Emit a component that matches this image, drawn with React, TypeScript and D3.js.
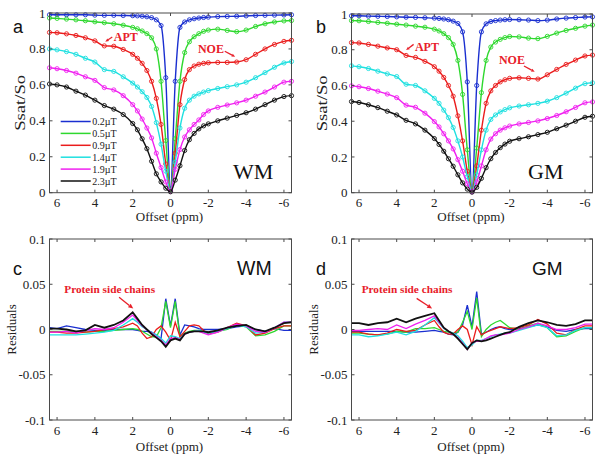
import React from 'react';
import * as d3 from 'd3';

// offsets (ppm), shared by all curves
const OFFSETS = [6.4, 6, 5.5, 5, 4.5, 4, 3.5, 3, 2.5, 2, 1.75, 1.5, 1.25, 1, 0.75, 0.5, 0.25, 0,
  -0.25, -0.5, -0.75, -1, -1.25, -1.5, -1.75, -2, -2.5, -3, -3.5, -4, -4.5, -5, -5.5, -6, -6.4];

const B1_LABELS = ['0.2µT', '0.5µT', '0.9µT', '1.4µT', '1.9µT', '2.3µT'];
const COLORS = ['#1a2fd0', '#2ed82e', '#ea1c1c', '#1fe0e0', '#f020f0', '#111111'];

const X_TICKS = [6, 4, 2, 0, -2, -4, -6];
const Z_TICKS = [0, 0.2, 0.4, 0.6, 0.8, 1];
const RES_TICKS = [-0.1, -0.05, 0, 0.05, 0.1];

// Z-spectra, white matter
const WM_02 = [0.99, 0.99, 0.99, 0.99, 0.99, 0.988, 0.987, 0.987, 0.986, 0.985, 0.984, 0.982, 0.979, 0.974, 0.962, 0.93, 0.64, 0.02, 0.62, 0.92, 0.95, 0.962, 0.968, 0.972, 0.975, 0.977, 0.98, 0.981, 0.982, 0.984, 0.986, 0.987, 0.988, 0.989, 0.99];
const WM_05 = [0.972, 0.97, 0.966, 0.962, 0.957, 0.951, 0.946, 0.94, 0.932, 0.92, 0.912, 0.9, 0.885, 0.862, 0.8, 0.62, 0.29, 0.015, 0.3, 0.62, 0.78, 0.84, 0.868, 0.885, 0.898, 0.905, 0.91, 0.903, 0.896, 0.905, 0.925, 0.94, 0.95, 0.956, 0.958];
const WM_09 = [0.892, 0.89, 0.884, 0.875, 0.862, 0.845, 0.817, 0.815, 0.797, 0.77, 0.748, 0.72, 0.68, 0.62, 0.525, 0.38, 0.16, 0.01, 0.22, 0.49, 0.63, 0.685, 0.705, 0.715, 0.72, 0.723, 0.725, 0.725, 0.727, 0.74, 0.77, 0.8, 0.825, 0.842, 0.848];
const WM_14 = [0.8, 0.795, 0.785, 0.77, 0.748, 0.727, 0.685, 0.675, 0.645, 0.61, 0.588, 0.562, 0.53, 0.48, 0.39, 0.27, 0.12, 0.01, 0.17, 0.36, 0.47, 0.515, 0.537, 0.55, 0.56, 0.568, 0.58, 0.59, 0.6, 0.615, 0.64, 0.668, 0.698, 0.722, 0.73];
const WM_19 = [0.695, 0.69, 0.68, 0.665, 0.645, 0.625, 0.585, 0.572, 0.54, 0.49, 0.455, 0.41, 0.36, 0.305, 0.22, 0.14, 0.06, 0.008, 0.13, 0.24, 0.31, 0.35, 0.38, 0.405, 0.435, 0.455, 0.475, 0.488, 0.5, 0.515, 0.537, 0.56, 0.588, 0.615, 0.62];
const WM_23 = [0.605, 0.6, 0.588, 0.565, 0.543, 0.515, 0.485, 0.465, 0.435, 0.385, 0.35, 0.3, 0.245, 0.175, 0.105, 0.06, 0.025, 0.005, 0.07, 0.15, 0.235, 0.295, 0.33, 0.355, 0.372, 0.383, 0.4, 0.415, 0.43, 0.445, 0.465, 0.49, 0.515, 0.535, 0.54];

// Z-spectra, grey matter
const GM_02 = [0.99, 0.99, 0.988, 0.987, 0.986, 0.984, 0.982, 0.981, 0.979, 0.977, 0.975, 0.972, 0.968, 0.96, 0.947, 0.9, 0.62, 0.01, 0.6, 0.9, 0.945, 0.958, 0.963, 0.966, 0.968, 0.969, 0.968, 0.966, 0.963, 0.966, 0.972, 0.977, 0.98, 0.983, 0.984];
const GM_05 = [0.963, 0.962, 0.958, 0.953, 0.948, 0.943, 0.938, 0.932, 0.926, 0.915, 0.905, 0.89, 0.868, 0.83, 0.74, 0.55, 0.24, 0.01, 0.25, 0.56, 0.74, 0.815, 0.843, 0.858, 0.868, 0.874, 0.872, 0.865, 0.862, 0.875, 0.893, 0.908, 0.92, 0.932, 0.938];
const GM_09 = [0.84, 0.838, 0.83, 0.82, 0.81, 0.8, 0.768, 0.757, 0.735, 0.705, 0.68, 0.645, 0.6, 0.54, 0.43, 0.29, 0.12, 0.01, 0.15, 0.35, 0.5, 0.57, 0.6, 0.62, 0.632, 0.64, 0.643, 0.64, 0.636, 0.66, 0.69, 0.718, 0.742, 0.765, 0.77];
const GM_14 = [0.71, 0.705, 0.695, 0.68, 0.665, 0.65, 0.607, 0.6, 0.57, 0.528, 0.5, 0.462, 0.42, 0.365, 0.29, 0.2, 0.09, 0.008, 0.1, 0.24, 0.35, 0.41, 0.435, 0.452, 0.465, 0.475, 0.485, 0.492, 0.5, 0.512, 0.532, 0.557, 0.585, 0.61, 0.615];
const GM_19 = [0.598, 0.593, 0.583, 0.568, 0.552, 0.532, 0.49, 0.478, 0.445, 0.398, 0.368, 0.33, 0.29, 0.245, 0.185, 0.12, 0.05, 0.005, 0.06, 0.15, 0.24, 0.3, 0.33, 0.35, 0.363, 0.373, 0.385, 0.393, 0.402, 0.415, 0.432, 0.453, 0.477, 0.503, 0.508];
const GM_23 = [0.51, 0.505, 0.492, 0.476, 0.456, 0.435, 0.405, 0.385, 0.35, 0.303, 0.27, 0.232, 0.19, 0.148, 0.1, 0.055, 0.02, 0.003, 0.03, 0.08, 0.14, 0.19, 0.225, 0.252, 0.272, 0.288, 0.302, 0.313, 0.325, 0.338, 0.358, 0.378, 0.4, 0.422, 0.428];

// fit residuals, white matter
const RES_WM_02 = [0.002, 0.001, 0.004, 0.002, 0, -0.001, -0.001, 0, 0, 0, -0.001, -0.002, -0.002, -0.003, -0.006, -0.01, 0.034, 0.004, 0.034, -0.006, 0.005, 0.004, 0.003, 0.001, 0, 0, 0, 0.001, 0.003, 0.004, 0, -0.002, 0.001, -0.001, -0.001];
const RES_WM_05 = [-0.002, -0.002, -0.002, -0.003, -0.003, -0.002, -0.002, -0.001, 0, 0.001, 0, -0.002, -0.005, -0.008, -0.008, 0.002, 0.031, 0.002, 0.031, -0.008, -0.004, -0.002, -0.001, -0.001, -0.002, -0.003, -0.002, 0, 0.005, 0.003, -0.007, -0.006, -0.002, 0.004, 0.004];
const RES_WM_09 = [-0.003, -0.003, -0.004, -0.004, -0.003, -0.002, 0, 0.001, 0.003, 0.007, 0.004, -0.004, -0.01, -0.008, 0, 0.004, -0.003, -0.012, 0.008, -0.008, -0.002, 0.004, 0.005, 0.004, -0.001, -0.005, -0.003, 0.002, 0.007, 0.004, -0.006, -0.004, 0.001, 0.004, 0.004];
const RES_WM_14 = [-0.006, -0.006, -0.006, -0.006, -0.005, -0.004, -0.003, -0.001, 0.005, 0.012, 0.008, 0.003, 0, -0.003, -0.006, -0.01, -0.015, -0.007, -0.008, -0.01, -0.005, -0.003, -0.002, -0.001, -0.003, -0.004, -0.002, 0.001, 0.005, 0.003, -0.004, -0.003, 0.002, 0.008, 0.008];
const RES_WM_19 = [-0.003, -0.003, -0.002, -0.004, -0.001, 0.001, 0, 0.002, 0.008, 0.016, 0.01, 0.004, 0, -0.004, -0.008, -0.012, -0.017, -0.01, -0.009, -0.011, -0.005, -0.003, -0.002, -0.002, -0.004, -0.006, -0.003, 0.002, 0.006, 0.004, -0.002, -0.003, 0.002, 0.008, 0.008];
const RES_WM_23 = [0.001, 0.001, 0, -0.002, -0.001, 0.005, 0.002, 0.005, 0.01, 0.019, 0.012, 0.005, 0, -0.005, -0.009, -0.013, -0.019, -0.012, -0.01, -0.012, -0.005, -0.003, -0.002, -0.002, -0.002, -0.003, -0.001, 0.002, 0.004, 0.005, 0, -0.002, 0.002, 0.007, 0.008];

// fit residuals, grey matter
const RES_GM_02 = [-0.002, -0.002, -0.002, -0.002, -0.002, -0.002, -0.003, -0.003, -0.002, -0.001, -0.002, -0.003, -0.005, -0.006, -0.003, 0.005, 0.027, 0.003, 0.042, -0.005, -0.003, 0, 0.002, 0.003, 0.001, 0, 0.001, 0.003, 0.005, 0.003, -0.001, -0.002, 0, 0.001, 0.001];
const RES_GM_05 = [-0.004, -0.004, -0.005, -0.006, -0.005, -0.002, -0.003, 0.001, 0.001, 0.002, 0, -0.002, -0.003, -0.004, -0.003, 0.008, 0.02, 0, 0.035, -0.008, 0, 0.005, 0.008, 0.01, 0.006, 0.002, 0, 0.004, 0.007, 0.002, -0.008, -0.007, -0.002, 0.002, 0.002];
const RES_GM_09 = [-0.003, -0.003, -0.005, -0.006, -0.004, 0, -0.002, -0.001, 0.005, 0.01, 0.003, -0.003, -0.005, -0.005, 0, 0.004, 0, -0.017, 0.003, -0.006, -0.003, -0.001, 0.001, 0.003, 0.002, 0.001, 0.002, 0.005, 0.011, 0.006, -0.004, -0.006, 0, 0.004, 0.004];
const RES_GM_14 = [-0.006, -0.006, -0.008, -0.007, -0.005, -0.003, -0.006, -0.002, 0.005, 0.013, 0.007, 0.001, -0.002, -0.004, -0.007, -0.013, -0.02, -0.017, -0.012, -0.012, -0.01, -0.008, -0.006, -0.005, -0.004, -0.004, -0.001, 0.002, 0.005, 0.002, -0.007, -0.006, -0.001, 0.002, 0.002];
const RES_GM_19 = [-0.001, -0.001, 0, 0.001, 0, 0.005, 0.001, 0.006, 0.01, 0.015, 0.008, 0.002, -0.002, -0.005, -0.009, -0.015, -0.022, -0.015, -0.013, -0.013, -0.01, -0.007, -0.006, -0.006, -0.005, -0.004, 0, 0.003, 0.007, 0.004, 0, 0, 0.002, 0.006, 0.006];
const RES_GM_23 = [0.007, 0.007, 0.005, 0.007, 0.008, 0.012, 0.008, 0.012, 0.015, 0.018, 0.01, 0.002, -0.002, -0.005, -0.01, -0.016, -0.022, -0.015, -0.012, -0.013, -0.012, -0.01, -0.008, -0.006, -0.004, -0.003, 0.003, 0.007, 0.01, 0.008, 0.005, 0.004, 0.006, 0.01, 0.01];

const SERIF = "'Liberation Serif', 'Times New Roman', serif";
const SANS = "'Liberation Sans', Arial, sans-serif";
const RED = '#e8202a';
const AXIS = '#4a4a4a';

type Scale = d3.ScaleLinear<number, number>;

type PanelProps = {
  left: number; right: number; top: number; bottom: number;
  yDomain: [number, number];
  yTicks: number[];
  series: number[][];
  smooth: boolean;
  ylabel: string;
  ylabelX: number;
  ylabelSize: number;
  ylabelLen?: number;
  xTickGap: number;
  xLabelGap: number;
  annotate?: (x: Scale, y: Scale) => React.ReactNode;
};

function Panel(p: PanelProps) {
  const x = d3.scaleLinear().domain([6.4, -6.4]).range([p.left, p.right]);
  const y = d3.scaleLinear().domain(p.yDomain).range([p.bottom, p.top]);
  const line = d3.line<number>()
    .x((_, i) => x(OFFSETS[i]))
    .y(d => y(d))
    .curve(p.smooth ? d3.curveMonotoneX : d3.curveLinear);
  const tl = 3;
  const midY = (p.top + p.bottom) / 2;

  return (
    <g>
      {p.series.map((s, k) => (
        <g key={k}>
          <path d={line(s) || ''} fill="none" stroke={COLORS[k]}
            strokeWidth={p.smooth ? 1.4 : (k === 5 ? 1.8 : 1.3)} />
          {p.smooth && s.map((v, i) => (
            <circle key={i} cx={x(OFFSETS[i])} cy={y(v)} r={2.1}
              fill="none" stroke={COLORS[k]} strokeWidth={0.9} />
          ))}
        </g>
      ))}

      <rect x={p.left} y={p.top} width={p.right - p.left} height={p.bottom - p.top}
        fill="none" stroke={AXIS} strokeWidth={1} />

      {X_TICKS.map(t => (
        <g key={'x' + t}>
          <line x1={x(t)} x2={x(t)} y1={p.bottom} y2={p.bottom - tl} stroke={AXIS} />
          <line x1={x(t)} x2={x(t)} y1={p.top} y2={p.top + tl} stroke={AXIS} />
          <text x={x(t)} y={p.bottom + p.xTickGap} textAnchor="middle"
            fontFamily={SERIF} fontSize={13} fill="#222">{String(t)}</text>
        </g>
      ))}
      {p.yTicks.map(t => (
        <g key={'y' + t}>
          <line x1={p.left} x2={p.left + tl} y1={y(t)} y2={y(t)} stroke={AXIS} />
          <line x1={p.right} x2={p.right - tl} y1={y(t)} y2={y(t)} stroke={AXIS} />
          <text x={p.left - 4} y={y(t)} dy="0.35em" textAnchor="end"
            fontFamily={SERIF} fontSize={13} fill="#222">{String(t)}</text>
        </g>
      ))}

      <text x={(p.left + p.right) / 2 - 1} y={p.bottom + p.xLabelGap} textAnchor="middle"
        fontFamily={SERIF} fontSize={13} fill="#222">Offset (ppm)</text>
      <text transform={`translate(${p.ylabelX},${midY}) rotate(-90)`} textAnchor="middle"
        fontFamily={SERIF} fontSize={p.ylabelSize} fill="#222"
        textLength={p.ylabelLen} lengthAdjust={p.ylabelLen ? 'spacingAndGlyphs' : undefined}>
        {p.ylabel}
      </text>

      {p.annotate && p.annotate(x, y)}
    </g>
  );
}

function Arrow({ x1, y1, x2, y2, head }: { x1: number; y1: number; x2: number; y2: number; head: number }) {
  const a = Math.atan2(y2 - y1, x2 - x1);
  const w = head * 0.45;
  const bx = x2 - head * Math.cos(a);
  const by = y2 - head * Math.sin(a);
  const pts = [
    [x2, y2],
    [bx + w * Math.sin(a), by - w * Math.cos(a)],
    [bx - w * Math.sin(a), by + w * Math.cos(a)],
  ].map(q => q.join(',')).join(' ');
  return (
    <g>
      <line x1={x1} y1={y1} x2={bx} y2={by} stroke={RED} strokeWidth={1.3} />
      <polygon points={pts} fill={RED} />
    </g>
  );
}

export default function App() {
  const wm = [WM_02, WM_05, WM_09, WM_14, WM_19, WM_23];
  const gm = [GM_02, GM_05, GM_09, GM_14, GM_19, GM_23];
  const resWm = [RES_WM_02, RES_WM_05, RES_WM_09, RES_WM_14, RES_WM_19, RES_WM_23];
  const resGm = [RES_GM_02, RES_GM_05, RES_GM_09, RES_GM_14, RES_GM_19, RES_GM_23];

  const boldRed = { fontFamily: SERIF, fontWeight: 700, fill: RED } as const;

  return (
    <svg width={600} height={456} style={{ position: 'absolute', left: 0, top: 0, background: '#fff' }}>
      <Panel left={49.5} right={291.5} top={13} bottom={192.7} yDomain={[0, 1]} yTicks={Z_TICKS}
        series={wm} smooth ylabel="Ssat/So" ylabelX={25} ylabelSize={15} ylabelLen={56}
        xTickGap={14} xLabelGap={28}
        annotate={(x, y) => (
          <g>
            <Arrow x1={x(3.08)} y1={y(0.866)} x2={x(3.45)} y2={y(0.84)} head={3.5} />
            <text x={x(3.0)} y={y(0.843)} fontSize={12} {...boldRed}>APT</text>
            <text x={x(-1.45)} y={y(0.777)} fontSize={12} {...boldRed}>NOE</text>
            <Arrow x1={x(-2.87)} y1={y(0.787)} x2={x(-3.42)} y2={y(0.757)} head={3.5} />
          </g>
        )} />

      <Panel left={351.5} right={592.5} top={14} bottom={192.7} yDomain={[0, 1]} yTicks={Z_TICKS}
        series={gm} smooth ylabel="Ssat/So" ylabelX={327} ylabelSize={15} ylabelLen={56}
        xTickGap={14} xLabelGap={28}
        annotate={(x, y) => (
          <g>
            <Arrow x1={x(3.1)} y1={y(0.83)} x2={x(3.5)} y2={y(0.798)} head={3.5} />
            <text x={x(3.03)} y={y(0.795)} fontSize={12} {...boldRed}>APT</text>
            <text x={x(-1.43)} y={y(0.72)} fontSize={12} {...boldRed}>NOE</text>
            <Arrow x1={x(-2.76)} y1={y(0.709)} x2={x(-3.33)} y2={y(0.677)} head={3.5} />
          </g>
        )} />

      <Panel left={49.5} right={291.5} top={239} bottom={420} yDomain={[-0.1, 0.1]} yTicks={RES_TICKS}
        series={resWm} smooth={false} ylabel="Residuals" ylabelX={16} ylabelSize={13}
        xTickGap={15} xLabelGap={30.5}
        annotate={(x, y) => (
          <g>
            <text x={x(5.62)} y={y(0.0402)} fontSize={11.3} {...boldRed}>Protein side chains</text>
            <Arrow x1={x(2.72)} y1={y(0.0356)} x2={x(1.97)} y2={y(0.0232)} head={5} />
          </g>
        )} />

      <Panel left={351.5} right={592.5} top={239} bottom={420} yDomain={[-0.1, 0.1]} yTicks={RES_TICKS}
        series={resGm} smooth={false} ylabel="Residuals" ylabelX={318} ylabelSize={13}
        xTickGap={15} xLabelGap={30.5}
        annotate={(x, y) => (
          <g>
            <text x={x(5.86)} y={y(0.0406)} fontSize={11.3} {...boldRed}>Protein side chains</text>
            <Arrow x1={x(2.94)} y1={y(0.0344)} x2={x(2.12)} y2={y(0.0232)} head={5} />
          </g>
        )} />

      {/* legend (panel a) */}
      {B1_LABELS.map((lab, i) => (
        <g key={lab}>
          <line x1={60.7} x2={90.7} y1={121.5 + i * 11.9} y2={121.5 + i * 11.9} stroke={COLORS[i]} strokeWidth={1.5} />
          <text x={92.3} y={121.5 + i * 11.9} dy="0.35em" fontFamily={SERIF} fontSize={10} fill="#222">{lab}</text>
        </g>
      ))}

      {/* panel letters and tissue labels */}
      <text x={13} y={33} fontFamily={SANS} fontSize={18} fill="#111">a</text>
      <text x={316} y={33} fontFamily={SANS} fontSize={18} fill="#111">b</text>
      <text x={13} y={275} fontFamily={SANS} fontSize={18} fill="#111">c</text>
      <text x={316} y={275} fontFamily={SANS} fontSize={18} fill="#111">d</text>

      <text x={233} y={178.5} fontFamily={SERIF} fontSize={22} fill="#111">WM</text>
      <text x={528} y={178.5} fontFamily={SERIF} fontSize={22} fill="#111">GM</text>
      <text x={237} y={275} fontFamily={SANS} fontSize={19.5} fill="#111">WM</text>
      <text x={532} y={275} fontFamily={SANS} fontSize={19} fill="#111">GM</text>
    </svg>
  );
}
